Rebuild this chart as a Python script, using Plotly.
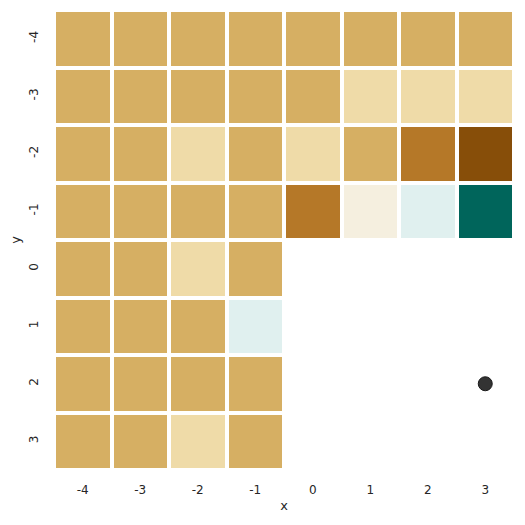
import numpy as np
import plotly.graph_objects as go

# grid coordinates
xs = [-4, -3, -2, -1, 0, 1, 2, 3]
ys = [-4, -3, -2, -1, 0, 1, 2, 3]

# cell values (None = empty cell); rows follow ys
z_rows = [
    [-2, -2, -2, -2, -2, -2, -2, -2],
    [-2, -2, -2, -2, -2, -1, -1, -1],
    [-2, -2, -1, -2, -1, -2, -3, -4],
    [-2, -2, -2, -2, -3, 0, 1, 4],
    [-2, -2, -1, -2, None, None, None, None],
    [-2, -2, -2, 1, None, None, None, None],
    [-2, -2, -2, -2, None, None, None, None],
    [-2, -2, -1, -2, None, None, None, None],
]

# marked point
pt_x = [3]
pt_y = [2]

COLORSCALE = [
    [0.0, "#874e09"],
    [0.125, "#b57828"],
    [0.25, "#d6af63"],
    [0.375, "#efdba8"],
    [0.5, "#f5efdf"],
    [0.625, "#e0f0ef"],
    [1.0, "#00655b"],
]
INK = "#262626"

z = np.array([[np.nan if v is None else v for v in row] for row in z_rows], dtype=float)

fig = go.Figure()
fig.add_trace(go.Heatmap(
    x=xs, y=ys, z=z, zmin=-4, zmax=4,
    colorscale=COLORSCALE, showscale=False,
    xgap=4, ygap=4, hoverongaps=False,
))
fig.add_trace(go.Scatter(
    x=pt_x, y=pt_y, mode="markers",
    marker=dict(size=14, color="#333333", line=dict(color="#1a1a1a", width=1)),
    showlegend=False,
))

fig.update_xaxes(
    range=[-4.5, 3.5], tickvals=xs, ticktext=[str(v) for v in xs],
    showgrid=False, zeroline=False, showline=False,
    ticks="outside", ticklen=9, tickcolor="white",
    title=dict(text="x", standoff=4, font=dict(size=13, color=INK)),
    tickfont=dict(size=12, color=INK),
)
fig.update_yaxes(
    range=[3.5, -4.5], tickvals=ys, ticktext=[str(v) for v in ys],
    showgrid=False, zeroline=False, showline=False,
    ticks="outside", ticklen=10, tickcolor="white",
    tickangle=-90,
    title=dict(text="y", standoff=6, font=dict(size=13, color=INK)),
    tickfont=dict(size=12, color=INK),
)
fig.update_layout(
    width=525, height=525,
    margin=dict(l=46, r=19, t=2, b=63, autoexpand=False),
    paper_bgcolor="white", plot_bgcolor="white",
    font=dict(family="DejaVu Sans, sans-serif", color=INK),
)

fig.write_html("out.html")
